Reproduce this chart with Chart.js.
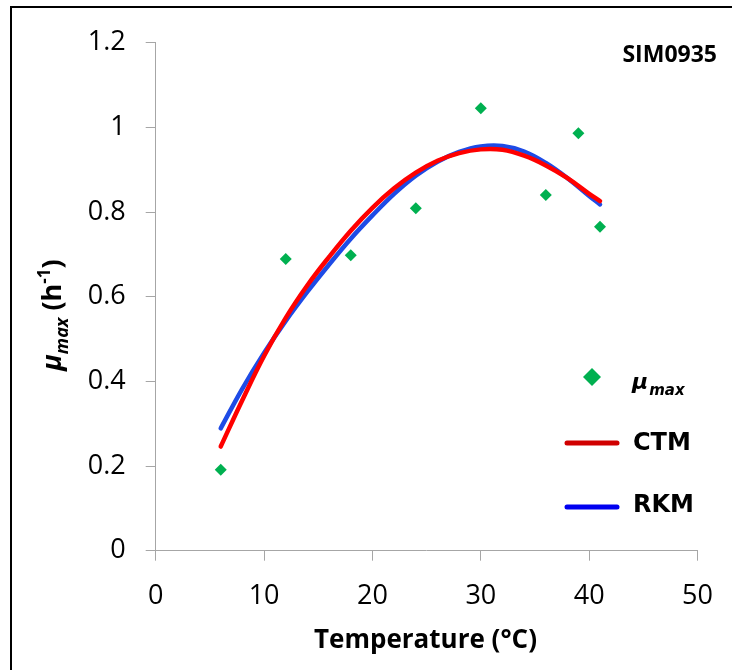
<!DOCTYPE html>
<html><head><meta charset="utf-8">
<script src="https://cdn.jsdelivr.net/npm/chart.js@4/dist/chart.umd.min.js"></script>
<style>html,body{margin:0;padding:0;background:#fff;overflow:hidden}#wrap{width:732px;height:670px;position:relative}</style>
</head><body><div id="wrap"><canvas id="c" width="732" height="670"></canvas></div>
<script>
// ---- data ----
const temps = [6, 12, 18, 24, 30, 36, 39, 41];
const muMax = [0.191, 0.689, 0.698, 0.809, 1.045, 0.840, 0.986, 0.765];
const curveT = [6, 8, 10, 12, 14, 16, 18, 20, 22, 24, 26, 28, 30, 32, 34, 36, 38, 40, 41];
const ctm = [0.246, 0.356, 0.460, 0.550, 0.627, 0.694, 0.756, 0.810, 0.856, 0.893, 0.921, 0.939, 0.948, 0.947, 0.933, 0.910, 0.880, 0.843, 0.826];
const rkm = [0.289, 0.383, 0.467, 0.543, 0.612, 0.676, 0.737, 0.792, 0.843, 0.886, 0.919, 0.942, 0.955, 0.956, 0.943, 0.916, 0.880, 0.838, 0.818];
const xTicks = [0, 10, 20, 30, 40, 50];
const yTicks = [0, 0.2, 0.4, 0.6, 0.8, 1, 1.2];
const yTickLabels = ['0', '0.2', '0.4', '0.6', '0.8', '1', '1.2'];
const xTickLabels = ['0', '10', '20', '30', '40', '50'];
const chartLabel = 'SIM0935';
const xTitle = 'Temperature (°C)';

const GREEN = '#00B050', RED = '#FF0000', BLUE = '#1E4BE6';
const TICKFONT = "'Open Sans', sans-serif";

const overlay = {
  id: 'overlay',
  beforeDraw(chart) {
    const c = chart.ctx;
    c.save();
    c.fillStyle = '#fff';
    c.fillRect(0, 0, chart.width, chart.height);
    c.strokeStyle = '#000';
    c.lineWidth = 2;
    c.beginPath();
    c.moveTo(11, 670); c.lineTo(11, 7); c.lineTo(732, 7);
    c.stroke();
    c.restore();
  },
  afterDraw(chart) {
    const c = chart.ctx;
    c.save();
    c.fillStyle = '#000';
    c.textBaseline = 'alphabetic';
    // label top right
    c.font = "bold 23px 'Open Sans', sans-serif";
    c.textAlign = 'right';
    c.fillText(chartLabel, 717, 62);
    // x title
    c.textAlign = 'center';
    c.font = "bold 26px 'Open Sans', sans-serif";
    c.fillText(xTitle, 425.5, 648);
    // y title (rotated)
    c.textAlign = 'left';
    const parts = [
      {t: 'μ', f: "italic bold 27px 'Open Sans', sans-serif", dy: 0},
      {t: 'max', f: "italic bold 18px 'Open Sans', sans-serif", dy: 7},
      {t: ' (h', f: "bold 27px 'Open Sans', sans-serif", dy: 0},
      {t: '-1', f: "bold 17px 'Open Sans', sans-serif", dy: -11},
      {t: ')', f: "bold 27px 'Open Sans', sans-serif", dy: 0}
    ];
    let total = 0;
    parts.forEach(p => { c.font = p.f; p.w = c.measureText(p.t).width; total += p.w; });
    c.translate(61, 315);
    c.rotate(-Math.PI / 2);
    let px = -total / 2;
    parts.forEach(p => { c.font = p.f; c.fillText(p.t, px, p.dy); px += p.w; });
    c.setTransform(1, 0, 0, 1, 0, 0);
    // legend
    c.fillStyle = GREEN;
    c.beginPath();
    c.moveTo(592, 368); c.lineTo(601, 377); c.lineTo(592, 386); c.lineTo(583, 377);
    c.closePath(); c.fill();
    c.fillStyle = '#000';
    c.font = "italic bold 22px 'DejaVu Sans', sans-serif";
    c.fillText('μ', 632, 389);
    const muw = c.measureText('μ').width;
    c.font = "italic bold 15px 'DejaVu Sans', sans-serif";
    c.fillText('max', 632 + muw + 1, 395);
    c.lineCap = 'round';
    c.lineWidth = 5;
    c.strokeStyle = '#D00000';
    c.beginPath(); c.moveTo(567, 443); c.lineTo(617, 443); c.stroke();
    c.strokeStyle = '#0000F0';
    c.beginPath(); c.moveTo(567, 507); c.lineTo(617, 507); c.stroke();
    c.font = "bold 24px 'DejaVu Sans', sans-serif";
    c.fillText('CTM', 633, 450);
    c.fillText('RKM', 633, 512);
    c.restore();
  }
};

new Chart(document.getElementById('c'), {
  type: 'scatter',
  data: {
    datasets: [
      {
        label: 'μmax',
        data: temps.map((t, i) => ({x: t, y: muMax[i]})),
        pointStyle: 'rectRot', pointRadius: 6, pointHoverRadius: 6,
        backgroundColor: GREEN, borderColor: GREEN, borderWidth: 0,
        showLine: false, order: 3
      },
      {
        label: 'RKM', type: 'line',
        data: curveT.map((t, i) => ({x: t, y: rkm[i]})),
        borderColor: BLUE, borderWidth: 4.5, pointRadius: 0, tension: 0.4,
        fill: false, order: 2, borderCapStyle: 'round'
      },
      {
        label: 'CTM', type: 'line',
        data: curveT.map((t, i) => ({x: t, y: ctm[i]})),
        borderColor: RED, borderWidth: 4.5, pointRadius: 0, tension: 0.4,
        fill: false, order: 1, borderCapStyle: 'round'
      }
    ]
  },
  options: {
    responsive: false, animation: false, devicePixelRatio: 1,
    layout: {padding: {top: 42.7, right: 32.7, left: 0, bottom: 0}},
    plugins: {legend: {display: false}, tooltip: {enabled: false}},
    scales: {
      x: {
        type: 'linear', min: 0, max: 50,
        afterBuildTicks(s) { s.ticks = xTicks.map(v => ({value: v})); },
        ticks: {
          callback: (v, i) => xTickLabels[i],
          font: {family: TICKFONT, size: 27}, color: '#000', padding: 19, maxRotation: 0
        },
        grid: {drawOnChartArea: false, drawTicks: true, tickLength: 10, color: '#a6a6a6'},
        border: {color: '#a6a6a6', width: 1},
        afterFit(s) { s.height = 119.3; }
      },
      y: {
        type: 'linear', min: 0, max: 1.2,
        afterBuildTicks(s) { s.ticks = yTicks.map(v => ({value: v})); },
        ticks: {
          callback: (v, i) => yTickLabels[i],
          font: {family: TICKFONT, size: 27}, color: '#000', padding: 20
        },
        grid: {drawOnChartArea: false, drawTicks: true, tickLength: 10, color: '#a6a6a6'},
        border: {color: '#a6a6a6', width: 1},
        afterFit(s) { s.width = 155.7; }
      }
    }
  },
  plugins: [overlay]
});
</script>
</body></html>
